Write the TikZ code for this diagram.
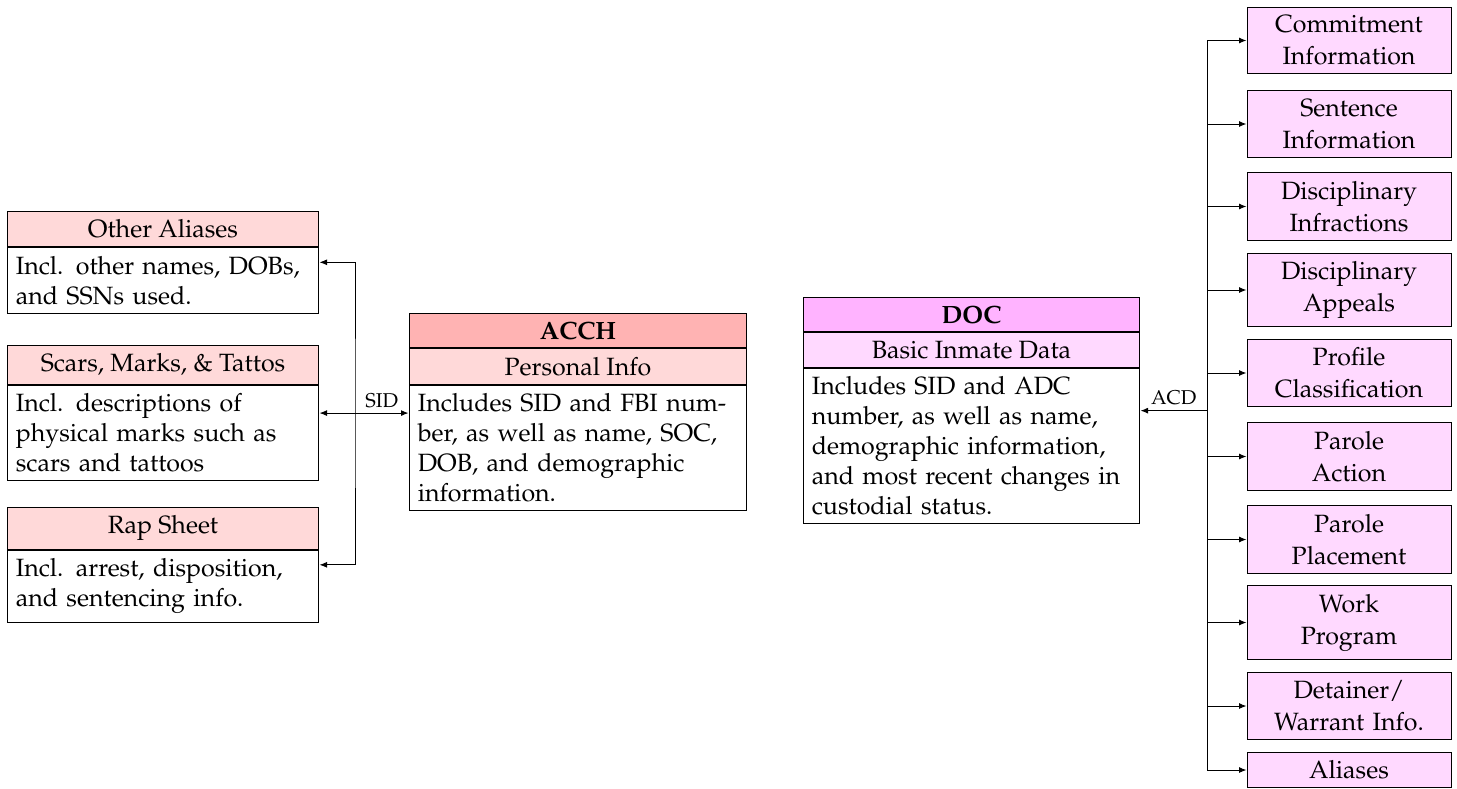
\documentclass[tikz,border=0pt]{standalone}
\usepackage[T1]{fontenc}
\usepackage{mathpazo}
\usetikzlibrary{fit,arrows.meta}
\definecolor{achdrc}{RGB}{255,179,179}
\definecolor{acsubc}{RGB}{255,217,217}
\definecolor{dchdrc}{RGB}{255,179,255}
\definecolor{dcsubc}{RGB}{255,217,255}
\begin{document}
\begin{tikzpicture}[x=0.4pt,y=-0.4pt,
  >={Latex[length=3pt,width=2.4pt]},
  box/.style={draw, inner sep=3.333pt, anchor=north west},
  lhdr/.style={box, fill=acsubc, minimum width=124.4pt},
  lbody/.style={box, text width=117.73pt, align=left},
  achdr/.style={box, fill=achdrc, minimum width=134.8pt, font=\bfseries},
  acsub/.style={box, fill=acsubc, minimum width=134.8pt},
  acbody/.style={box, text width=128.13pt, align=left},
  dchdr/.style={box, fill=dchdrc, minimum width=134.4pt, font=\bfseries},
  dcsub/.style={box, fill=dcsubc, minimum width=134.4pt},
  dcbody/.style={box, text width=127.73pt, align=left},
  rbox/.style={draw, fill=dcsubc, inner sep=3.333pt, text width=74.93pt, align=center,
    execute at begin node={\setlength{\baselineskip}{12.8pt}}},
  whole/.style={inner sep=0pt},
  lbl/.style={inner sep=2pt, font=\footnotesize}
]
\useasboundingbox (0,0) rectangle (1457,788);

% left boxes
\node[lhdr] (aliasH) at (7,211) {Other Aliases};
\node[lbody] (aliasB) at (aliasH.south west) {Incl. other names, DOBs,\\and SSNs used.};
\node[whole, fit=(aliasH)(aliasB)] (alias) {};

\node[lhdr] (scarsH) at (7,345) {Scars, Marks, \& Tattos};
\node[lbody] (scarsB) at (scarsH.south west) {Incl. descriptions of\\physical marks such as\\scars and tattoos};
\node[whole, fit=(scarsH)(scarsB)] (scars) {};

\node[lhdr] (rapH) at (7,507) {Rap Sheet};
\node[lbody] (rapB) at (rapH.south west) {Incl. arrest, disposition,\\and sentencing info.};
\node[whole, fit=(rapH)(rapB)] (rap) {};

% ACCH
\node[achdr] (acchH) at (409,313) {ACCH};
\node[acsub] (acchS) at (acchH.south west) {Personal Info};
\node[acbody] (acchB) at (acchS.south west) {Includes SID and FBI num-\\ber, as well as name, SOC,\\DOB, and demographic\\information.};
\node[whole, fit=(acchH)(acchS)(acchB)] (acch) {};

% DOC
\node[dchdr] (docH) at (803,297) {DOC};
\node[dcsub] (docS) at (docH.south west) {Basic Inmate Data};
\node[dcbody] (docB) at (docS.south west) {Includes SID and ADC\\number, as well as name,\\demographic information,\\and most recent changes in\\custodial status.};
\node[whole, fit=(docH)(docS)(docB)] (doc) {};

% right boxes
\node[rbox] (commit) at (1349,40.5) {Commitment\\Information};
\node[rbox] (sentence) at (1349,124) {Sentence\\Information};
\node[rbox] (infr) at (1349,206.5) {Disciplinary\\Infractions};
\node[rbox] (appeals) at (1349,290) {Disciplinary\\Appeals};
\node[rbox] (profile) at (1349,373) {Profile\\Classification};
\node[rbox] (paction) at (1349,456.5) {Parole\\Action};
\node[rbox] (pplace) at (1349,539.5) {Parole\\Placement};
\node[rbox] (work) at (1349,622.5) {Work\\Program};
\node[rbox] (detainer) at (1349,706) {Detainer/\\Warrant Info.};
\node[rbox] (aliases) at (1349,770) {Aliases};

% left connectors
\coordinate (ls) at (355,0);
\draw[<->] (alias.east) -| (ls |- scars.east) |- (rap.east);
\draw[<->] (scars.east) -- node[lbl, above, pos=0.7] {SID} (scars.east -| acch.west);

% right connectors
\coordinate (rs) at (1207,0);
\draw[<->] (commit.west) -| (rs |- doc.east) |- (aliases.west);
\draw[->] (rs |- doc.east) -- node[lbl, above] {ACD} (doc.east);
\foreach \n in {sentence,infr,appeals,profile,paction,pplace,work,detainer}
  \draw[->] (rs |- \n.west) -- (\n.west);
\end{tikzpicture}
\end{document}
